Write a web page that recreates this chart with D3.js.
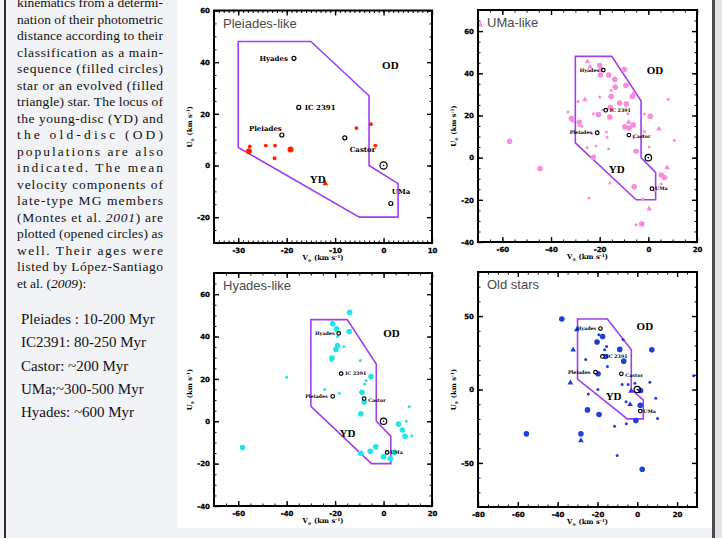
<!DOCTYPE html>
<html><head><meta charset="utf-8">
<script src="https://cdn.jsdelivr.net/npm/d3@7"></script>
<style>body{margin:0;background:#f1f2f6;overflow:hidden} svg{display:block}</style>
</head><body><svg id="c" width="722" height="538"></svg>
<script>
// ---------- text ----------
const captionLines = [
  "kinematics from a determi-",
  "nation of their photometric",
  "distance according to their",
  "classification as a main-",
  "sequence (filled circles)",
  "star or an evolved (filled",
  "triangle) star. The locus of",
  "the young-disc (YD) and",
  "the old-disc (OD)",
  "populations are also",
  "indicated. The mean",
  "velocity components of",
  "late-type MG members",
  "(Montes et al. |2001|) are",
  "plotted (opened circles) as",
  "well. Their ages were",
  "listed by López-Santiago",
  "et al. (|2009|):"
];
const ageLines = [
  "Pleiades : 10-200 Myr",
  "IC2391: 80-250 Myr",
  "Castor: ~200 Myr",
  "UMa;~300-500 Myr",
  "Hyades: ~600 Myr"
];
const panelTitles = ["Pleiades-like", "UMa-like", "Hyades-like", "Old stars"];

// ---------- YD / OD locus ----------
const locusV = [-30, -15, -3, -3, 3, 3, -5, -30];
const locusU = [48, 48, 27, 0, -7, -20, -20, 7];

// ---------- moving groups (Montes et al. 2001) ----------
const mgNames = ["Hyades", "IC 2391", "Pleiades", "Castor", "UMa"];
const mgV = [-18.5, -17.5, -21, -8, 1.5];
const mgU = [41.5, 22.5, 11.8, 10.7, -14.7];
const sunV = 0, sunU = 0;

// ---------- stars: [V, U, kind]  L = large circle, S = small circle, T = triangle (evolved) ----------
const pleiadesLike = [
  [-2.6, 16.0, "S"], [-5.6, 14.5, "S"], [-1.7, 7.7, "S"], [-27.6, 7.4, "S"],
  [-27.8, 5.5, "L"], [-24.3, 7.7, "S"], [-22.4, 7.7, "S"], [-19.2, 6.2, "L"],
  [-22.5, 2.8, "S"], [-12.0, -7.0, "T"]
];
const umaLike = [
  [-69, 63, "T"], [-57, 7.8, "L"], [-44.5, -5.2, "L"], [-25, 45.5, "T"], [-24, 43, "T"],
  [-20, 43.7, "L"], [-19.4, 41.8, "L"], [-19.7, 39.2, "L"], [-16.3, 39.2, "L"], [-9.9, 41.8, "L"],
  [-13.8, 37.1, "L"], [-13.6, 33.4, "L"], [-9.2, 34.3, "L"], [-15.3, 29, "L"], [-20, 28.7, "S"],
  [-26, 27.5, "T"], [-28.9, 26.6, "S"], [-15.3, 31.8, "S"], [-11.8, 25.9, "L"], [-9, 25.4, "L"],
  [-6.6, 29, "L"], [-6, 30.5, "T"], [-15.6, 23.7, "L"], [-15.8, 19.3, "L"], [-20.5, 20.4, "L"],
  [-22.6, 20.8, "S"], [-18.8, 22.7, "S"], [-8.4, 20.8, "S"], [-8.1, 16.8, "T"], [-6.2, 15.5, "L"],
  [-9.7, 14.6, "L"], [-7.9, 14, "L"], [-1.6, 20.7, "S"], [0.8, 19.6, "L"], [-1.6, 12.4, "S"],
  [-2.2, 10.2, "S"], [0.3, 5, "S"], [-6, 9.4, "S"], [-5, 3, "L"], [-33, 21.6, "S"],
  [-31.6, 18.5, "L"], [-31, 17.2, "S"], [-28.4, 16.8, "L"], [-28.4, 15.2, "S"], [-27.3, 14.9, "S"],
  [-23.2, 11.3, "S"], [-17.2, 12.2, "S"], [-17, 9.7, "S"], [-21.5, 5.5, "S"], [-25.2, 4.7, "S"],
  [-16.3, 4.2, "S"], [-22.6, 0.2, "L"], [4.4, 13.6, "T"], [8.2, 27.7, "S"], [10.7, 8.2, "S"],
  [5.3, -8.2, "L"], [6.6, -9.4, "L"], [5.3, -12.5, "S"], [7.7, -4.7, "T"], [-5.8, -13.8, "L"],
  [-15.8, -12, "S"], [-24.4, -19.1, "S"], [-2.3, -19.6, "S"], [0.3, -24.3, "T"], [-2.7, -31.5, "L"],
  [-5, -31.8, "S"], [2.5, -15.7, "S"]
];
const hyadesLike = [
  [-14, 51.5, "L"], [-21, 46, "L"], [-19.4, 43.6, "L"], [-14.2, 42.4, "L"], [-19, 40, "S"],
  [-19, 35.7, "L"], [-19.7, 33.9, "L"], [-16.4, 35.3, "S"], [-21.3, 29.8, "L"], [-21.6, 28.7, "S"],
  [-9.6, 28.7, "S"], [-5.2, 21.1, "L"], [-7.2, 19.2, "S"], [-7.8, 17.6, "S"], [-24.3, 15, "S"],
  [-18.3, 13.2, "S"], [-8.9, 13.7, "L"], [-8, 9.1, "L"], [-9.4, 3.5, "L"], [-40, 20.8, "S"],
  [-58.2, -12.4, "L"], [6.2, -1.3, "L"], [9.4, 0, "S"], [10.6, 6.9, "S"], [7.8, -4.1, "L"],
  [8.9, -7.1, "L"], [11.6, -6.8, "S"], [-3.2, -12.1, "L"], [-5.5, -14.2, "L"], [-9.4, -15.1, "L"],
  [0, -16.7, "L"], [2.8, -17.6, "L"], [4.4, -14.6, "L"]
];
const oldStars = [
  [-37.9, 48, "L"], [-30.4, 40.7, "T"], [-19.3, 37.3, "S"], [-17.4, 36.1, "L"], [-20.2, 32.3, "L"],
  [-15.4, 29.3, "S"], [-16.4, 27, "S"], [-8.8, 27.3, "L"], [-7.1, 33.9, "S"], [-32.2, 27, "T"],
  [-25.9, 20.5, "S"], [-15.9, 22.5, "L"], [-6.8, 19.3, "L"], [-15, 15.7, "S"], [-19.7, 10.7, "L"],
  [-33.6, 4.5, "T"], [-19.8, 0, "S"], [-24.6, -3, "S"], [-25, -13.9, "L"], [-19.2, -17, "L"],
  [7.3, 27, "L"], [6.3, 5, "S"], [-1.2, 4.3, "S"], [-4.6, 3.4, "S"], [-7.6, 3.4, "S"],
  [1.7, -0.7, "L"], [-3.1, -1.1, "T"], [-5.6, -8.4, "S"], [-3.6, -10.2, "T"], [1.5, -10.7, "L"],
  [9.3, -5.9, "S"], [-0.7, -21.1, "L"], [10.2, -19.8, "S"], [-11.4, -25, "S"], [-5.5, -23.4, "S"],
  [-28.3, -30.2, "L"], [-28.3, -34.8, "T"], [-55.7, -30.2, "L"], [-10.1, -45, "S"], [2.5, -54.3, "L"],
  [28.3, 9.3, "S"]
];

// ---------- drawing ----------
const svg = d3.select("#c");
svg.append("rect").attr("width", 722).attr("height", 538).attr("fill", "#f2f3f7");
svg.append("rect").attr("x", 177).attr("y", 0).attr("width", 535).attr("height", 528).attr("fill", "#ffffff");
svg.append("rect").attr("x", 712).attr("y", 0).attr("width", 3).attr("height", 538).attr("fill", "#4a4a4a");
svg.append("rect").attr("x", 715).attr("y", 0).attr("width", 7).attr("height", 538).attr("fill", "#e2e3e6");
svg.append("rect").attr("x", 4).attr("y", 0).attr("width", 2).attr("height", 538).attr("fill", "#2a2a2a");

// caption
const serif = "'Liberation Serif','Times New Roman',serif";
const cap = svg.append("g").attr("font-family", serif).attr("font-size", 13.5).attr("fill", "#111");
captionLines.forEach((ln, i) => {
  const t = cap.append("text").attr("x", 17).attr("y", 7 + 16.5 * i);
  if (i < captionLines.length - 1) t.attr("textLength", 146).attr("lengthAdjust", "spacing");
  ln.split("|").forEach((part, j) => {
    t.append("tspan").attr("font-style", j % 2 ? "italic" : "normal").text(part);
  });
});
const ages = svg.append("g").attr("font-family", serif).attr("font-size", 15).attr("fill", "#111");
ageLines.forEach((ln, i) => ages.append("text").attr("x", 21).attr("y", 324 + 23.3 * i).text(ln));

const panels = [
  {data: pleiadesLike, color: "#ff2200", x0: 214, x1: 432, y0: 10.5, y1: 243, xd: [-35, 10], yd: [-30, 60],
   xMaj: 10, xMin: 1, yMaj: 20, yMin: 5, lab: 7, big: true,
   od: [1.4, 39], yd2: [-13.6, -5.4]},
  {data: umaLike, color: "#f78ddc", x0: 478, x1: 697, y0: 10, y1: 242, xd: [-70, 20], yd: [-40, 70],
   xMaj: 20, xMin: 5, yMaj: 20, yMin: 5, lab: 4.8, big: false,
   od: [2.7, 41.5], yd2: [-13, -5.5]},
  {data: hyadesLike, color: "#22e6e6", x0: 214, x1: 432, y0: 273, y1: 506, xd: [-70, 20], yd: [-40, 70],
   xMaj: 20, xMin: 5, yMaj: 20, yMin: 5, lab: 4.8, big: false,
   od: [3.3, 41.7], yd2: [-14.9, -5.7]},
  {data: oldStars, color: "#1f3fda", x0: 478, x1: 697, y0: 272, y1: 507, xd: [-80, 30], yd: [-80, 80],
   xMaj: 20, xMin: 5, yMaj: 50, yMin: 10, lab: 4.8, big: false,
   od: [3.8, 43], yd2: [-11.9, -4.5]}
];

function ticksOf(d, step) {
  const out = [];
  for (let v = Math.ceil(d[0] / step - 1e-9) * step; v <= d[1] + 1e-9; v += step) out.push(+v.toFixed(6));
  return out;
}
const tickFont = "'DejaVu Sans',sans-serif";
const boldSerif = "'DejaVu Serif',serif";

panels.forEach((p, pi) => {
  const g = svg.append("g");
  const x = d3.scaleLinear().domain(p.xd).range([p.x0, p.x1]);
  const y = d3.scaleLinear().domain(p.yd).range([p.y1, p.y0]);
  const W = p.x1 - p.x0, H = p.y1 - p.y0;

  // title
  g.append("text").attr("x", p.x0 + 9).attr("y", p.y0 + 17).attr("font-family", "'Liberation Sans',Arial,sans-serif")
    .attr("font-size", 13).attr("fill", "#4a4a4a").text(panelTitles[pi]);

  // locus polygon
  const pts = locusV.map((v, i) => [x(v), y(locusU[i])]);
  g.append("path").attr("d", d3.line()(pts) + "Z").attr("fill", "none").attr("stroke", "#a13ff0").attr("stroke-width", 1.6);

  // stars
  const rL = p.big ? 3 : 2.8, rS = p.big ? 1.9 : 1.5;
  p.data.forEach(d => {
    if (d[2] === "T") {
      g.append("path").attr("transform", `translate(${x(d[0])},${y(d[1])})`)
        .attr("d", d3.symbol(d3.symbolTriangle, 14)()).attr("fill", p.color);
    } else {
      g.append("circle").attr("cx", x(d[0])).attr("cy", y(d[1])).attr("r", d[2] === "L" ? rL : rS).attr("fill", p.color);
    }
  });

  // moving group markers and labels
  const lab = g.append("g").attr("font-family", boldSerif).attr("font-weight", "bold").attr("font-size", p.lab).attr("fill", "#000");
  mgNames.forEach((n, i) => {
    const cx = x(mgV[i]), cy = y(mgU[i]);
    g.append("circle").attr("cx", cx).attr("cy", cy).attr("r", p.big ? 2 : 1.8)
      .attr("fill", "white").attr("stroke", "#000").attr("stroke-width", 1.2);
    let dx = 0, dy = 0, anchor = "start";
    const s = p.lab / 7;
    if (n === "Hyades") { anchor = "end"; dx = -6 * s; dy = 2.5 * s; }
    if (n === "IC 2391") { dx = 6 * s; dy = 2.5 * s; }
    if (n === "Pleiades") {
      if (p.big) { anchor = "end"; dx = 0; dy = -4; } else { anchor = "end"; dx = -5; dy = 1.6; }
    }
    if (n === "Castor") {
      if (p.big) { dx = 5; dy = 14; } else { dx = 4; dy = 3; }
    }
    if (n === "UMa") {
      if (p.big) { dx = 1; dy = -9; } else { dx = 3; dy = 1.6; }
    }
    lab.append("text").attr("x", cx + dx).attr("y", cy + dy).attr("text-anchor", anchor).text(n);
  });
  // Sun
  g.append("circle").attr("cx", x(sunV)).attr("cy", y(sunU)).attr("r", p.big ? 3.6 : 3.2)
    .attr("fill", "none").attr("stroke", "#000").attr("stroke-width", 1.2);
  g.append("circle").attr("cx", x(sunV)).attr("cy", y(sunU)).attr("r", 0.8).attr("fill", "#000");

  // OD / YD
  const big = g.append("g").attr("font-family", serif).attr("font-weight", "bold").attr("font-size", 11)
    .attr("text-anchor", "middle").attr("fill", "#000");
  big.append("text").attr("x", x(p.od[0])).attr("y", y(p.od[1]) + 4).text("OD");
  big.append("text").attr("x", x(p.yd2[0])).attr("y", y(p.yd2[1]) + 4).text("YD");

  // axes
  const xMajT = ticksOf(p.xd, p.xMaj), xMinT = ticksOf(p.xd, p.xMin);
  const yMajT = ticksOf(p.yd, p.yMaj), yMinT = ticksOf(p.yd, p.yMin);
  const fmt = v => String(v);
  const style = (sel, sw) => {
    sel.select(".domain").remove();
    sel.selectAll("line").attr("stroke", "#000").attr("stroke-width", sw);
    sel.selectAll("text").attr("font-family", tickFont).attr("font-weight", "900").attr("font-size", 7)
      .attr("fill", "#000").attr("stroke", "#000").attr("stroke-width", 0.3);
  };
  g.append("g").attr("transform", `translate(0,${p.y1})`)
    .call(d3.axisBottom(x).tickValues(xMinT).tickSize(-2.5).tickFormat("")).call(s => style(s, 1));
  g.append("g").attr("transform", `translate(0,${p.y1})`)
    .call(d3.axisBottom(x).tickValues(xMajT).tickSize(-5).tickPadding(5).tickFormat(fmt)).call(s => style(s, 1.4));
  g.append("g").attr("transform", `translate(0,${p.y0})`)
    .call(d3.axisTop(x).tickValues(xMinT).tickSize(-2.5).tickFormat("")).call(s => style(s, 1));
  g.append("g").attr("transform", `translate(0,${p.y0})`)
    .call(d3.axisTop(x).tickValues(xMajT).tickSize(-5).tickFormat("")).call(s => style(s, 1.4));
  g.append("g").attr("transform", `translate(${p.x0},0)`)
    .call(d3.axisLeft(y).tickValues(yMinT).tickSize(-2.5).tickFormat("")).call(s => style(s, 1));
  g.append("g").attr("transform", `translate(${p.x0},0)`)
    .call(d3.axisLeft(y).tickValues(yMajT).tickSize(-5).tickPadding(4).tickFormat(fmt)).call(s => style(s, 1.4));
  g.append("g").attr("transform", `translate(${p.x1},0)`)
    .call(d3.axisRight(y).tickValues(yMinT).tickSize(-2.5).tickFormat("")).call(s => style(s, 1));
  g.append("g").attr("transform", `translate(${p.x1},0)`)
    .call(d3.axisRight(y).tickValues(yMajT).tickSize(-5).tickFormat("")).call(s => style(s, 1.4));

  g.append("rect").attr("x", p.x0).attr("y", p.y0).attr("width", W).attr("height", H)
    .attr("fill", "none").attr("stroke", "#000").attr("stroke-width", 2);

  // axis titles
  const at = {"font-family": boldSerif, "font-weight": "bold", "font-size": 6.8, "fill": "#000"};
  const xt = g.append("text").attr("x", (p.x0 + p.x1) / 2).attr("y", p.y1 + 17).attr("text-anchor", "middle");
  const yt = g.append("text").attr("transform", `translate(${p.x0 - 22},${(p.y0 + p.y1) / 2}) rotate(-90)`).attr("text-anchor", "middle");
  [[xt, "V"], [yt, "U"]].forEach(([t, letter]) => {
    Object.entries(at).forEach(([k, v]) => t.attr(k, v));
    t.append("tspan").text(letter);
    t.append("tspan").attr("font-size", 4.5).attr("dy", 1.5).text("⊙");
    t.append("tspan").attr("dy", -1.5).text(" (km s");
    t.append("tspan").attr("font-size", 4.5).attr("dy", -2.5).text("-1");
    t.append("tspan").attr("dy", 2.5).text(")");
  });
});
</script>
</body></html>
